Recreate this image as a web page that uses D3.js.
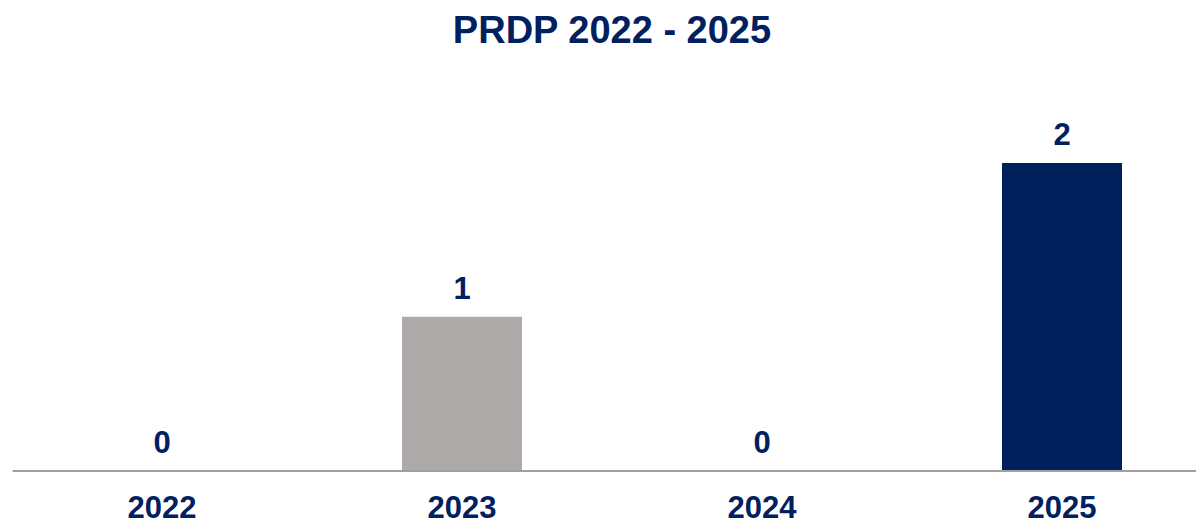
<!DOCTYPE html>
<html>
<head>
<meta charset="utf-8">
<script src="https://cdn.jsdelivr.net/npm/d3@7"></script>
<style>
body { margin: 0; background: #fff; }
svg text { font-family: "Liberation Sans", Arial, sans-serif; font-weight: bold; fill: #002060; }
</style>
</head>
<body>
<div id="chart"></div>
<script>
var years = ["2022", "2023", "2024", "2025"];
var counts = [0, 1, 0, 2];
var barColors = ["#aeaaa9", "#aeaaa9", "#aeaaa9", "#00205b"];
var yTicks = [0, 1, 2];

var width = 1196, height = 524;
var baseY = 470.5;

var svg = d3.select("#chart").append("svg").attr("width", width).attr("height", height);

var data = years.map(function(y, i) { return {year: y, count: counts[i], color: barColors[i]}; });

var x = d3.scaleBand().domain(years).range([12, 1212]).paddingInner(0.6).paddingOuter(0.3);
var y = d3.scaleLinear().domain([0, d3.max(yTicks)]).range([baseY, 163]);

// title
svg.append("text").attr("x", 612).attr("y", 43).attr("text-anchor", "middle")
    .style("font-size", "38px").text("PRDP 2022 - 2025");

// bars
svg.selectAll(".bar").data(data).enter().append("rect")
    .attr("x", d => x(d.year)).attr("width", x.bandwidth())
    .attr("y", d => y(d.count)).attr("height", d => baseY - y(d.count))
    .attr("fill", d => d.color);

// value labels
svg.selectAll(".val").data(data).enter().append("text")
    .attr("x", d => x(d.year) + x.bandwidth() / 2)
    .attr("y", d => y(d.count) - 18)
    .attr("text-anchor", "middle").style("font-size", "31px")
    .text(d => d.count);

// x axis
var ax = svg.append("g").attr("transform", "translate(0," + baseY + ")")
    .call(d3.axisBottom(x).tickSize(0).tickSizeOuter(0).tickPadding(14));
ax.select(".domain").attr("stroke", "#a0a0a0").attr("stroke-width", 2);
ax.selectAll("text").attr("dy", null).attr("y", 47).style("font-size", "31px")
    .style("font-family", "'Liberation Sans', Arial, sans-serif").style("font-weight", "bold").attr("fill", "#002060");
</script>
</body>
</html>
